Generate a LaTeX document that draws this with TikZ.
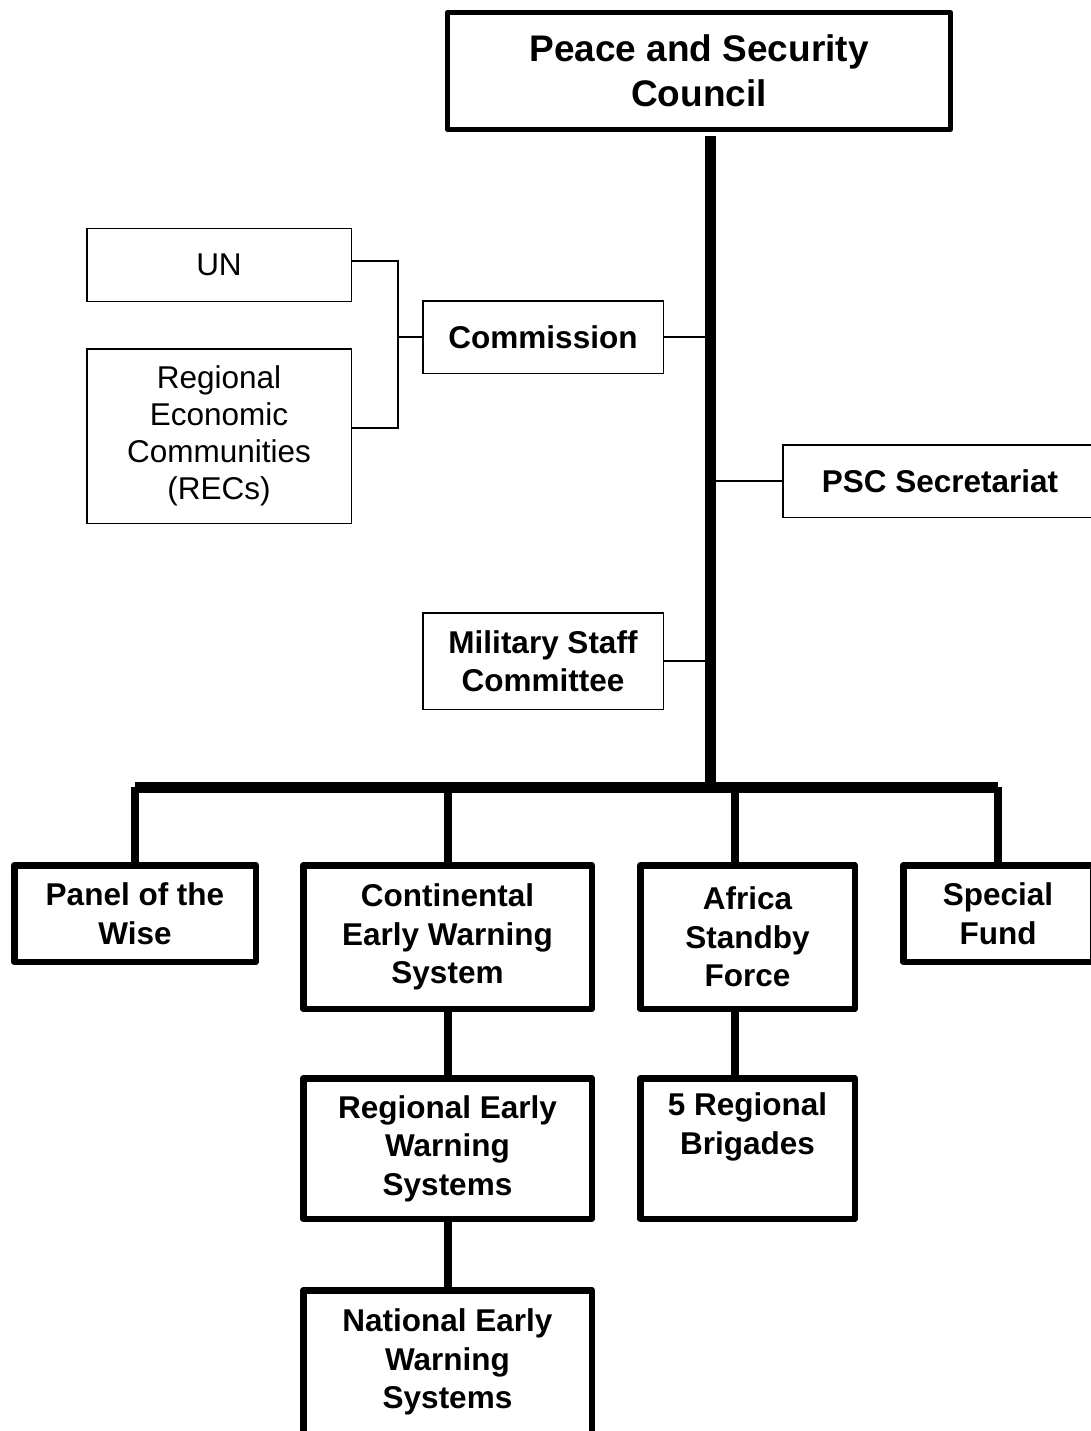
\documentclass[tikz,border=0pt]{standalone}
\usepackage{fontspec}
\setmainfont{Liberation Sans}

\begin{document}
\begin{tikzpicture}[x=1pt,y=1pt]
		\tikzset{
  council/.style={
         rectangle,
         draw=black, line width=5pt,
         line join=round,
         minimum width=503pt,
         minimum height=117pt,
         inner sep=0,
         align=center,
         font=\fontsize{37}{45}\selectfont\bfseries,
         },
  office/.style={
         rectangle,
         draw=black, line width=1.5pt,
         inner sep=0,
         align=center,
         font=\fontsize{31.5}{38}\selectfont\bfseries,
         },
  partner/.style={
         office,
         font=\fontsize{31.5}{37}\selectfont,
         },
  organ/.style={
         rectangle,
         draw=black, line width=6.5pt,
         line join=round,
         inner sep=0,
         align=center,
         font=\fontsize{31.5}{38.5}\selectfont\bfseries,
         },
  link/.style={draw, line width=1.5pt},
  trunk/.style={draw, line width=11pt},
  branch/.style={draw, line width=8pt},
}

    \useasboundingbox (0,0) rectangle (1090,-1431);

    \node[council] (psc) at (699,-71) {Peace and Security\\Council};

    \node[office,
      minimum width=240.5pt,
      minimum height=72.5pt] (commission) at (543,-337)
    {Commission};

    \node[partner,
      left of=commission,
      node distance=324pt,
      yshift=72pt,
      minimum width=264.5pt,
      minimum height=72.5pt] (un)
    {UN};

    \node[partner,
      below of=un,
      node distance=171pt,
      minimum width=264.5pt,
      minimum height=174.5pt] (recs)
    {Regional\\Economic\\Communities\\(RECs)};

    \node[office,
      minimum width=314.5pt,
      minimum height=72.5pt] (secretariat) at (940,-481)
    {PSC Secretariat};

    \node[office,
      below of=commission,
      node distance=324pt,
      minimum width=240.5pt,
      minimum height=96.5pt] (msc)
    {Military Staff\\Committee};

    \node[organ,
      minimum width=288.5pt,
      minimum height=143.5pt] (cews) at (447.5,-937)
    {Continental\\Early Warning\\System};

    \node[organ,
      left of=cews,
      node distance=312.5pt,
      yshift=23.5pt,
      minimum width=241.5pt,
      minimum height=96.5pt] (panel)
    {Panel of the\\Wise};

    \node[organ,
      right of=cews,
      node distance=300pt,
      minimum width=214.5pt,
      minimum height=143.5pt] (asf)
    {Africa\\Standby\\Force};

    \node[organ,
      right of=asf,
      node distance=250.5pt,
      yshift=23.5pt,
      minimum width=189.5pt,
      minimum height=96.5pt] (fund)
    {Special\\Fund};

    \node[organ,
      below of=cews,
      node distance=211.5pt,
      minimum width=288.5pt,
      minimum height=140.5pt] (rews)
    {Regional Early\\Warning\\Systems};

    \node[organ,
      below of=asf,
      node distance=211.5pt,
      minimum width=214.5pt,
      minimum height=140.5pt] (brigades)
    {5 Regional\\Brigades\\\strut};

    \node[organ,
      below of=rews,
      node distance=213.5pt,
      minimum width=288.5pt,
      minimum height=143.5pt] (news)
    {National Early\\Warning\\Systems};

    \coordinate (hub) at (710,-787);
    \coordinate (brk) at ([xshift=-24pt]commission.west);

    \path[link] ([yshift=4pt]un.east) -| (brk) |- ([yshift=8pt]recs.east);
    \path[link] (brk) -- (commission.west);
    \path[link] (commission.east) -- (commission.east -| hub);
    \path[link] (secretariat.west) -- (secretariat.west -| hub);
    \path[link] (msc.east) -- (msc.east -| hub);

    \path[trunk] ([yshift=-4pt]psc.south -| hub) -- (hub);
    \path[trunk] (panel.north |- hub) -- (fund.north |- hub);

    \path[branch] (panel.north |- hub) -- (panel.north);
    \path[branch] (cews.north |- hub) -- (cews.north);
    \path[branch] ([xshift=-12.5pt]asf.north |- hub) -- ([xshift=-12.5pt]asf.north);
    \path[branch] (fund.north |- hub) -- (fund.north);
    \path[branch] (cews) -- (rews);
    \path[branch] ([xshift=-12.5pt]asf.south) -- ([xshift=-12.5pt]brigades.north);
    \path[branch] (rews) -- (news);

	\end{tikzpicture}
\end{document}
